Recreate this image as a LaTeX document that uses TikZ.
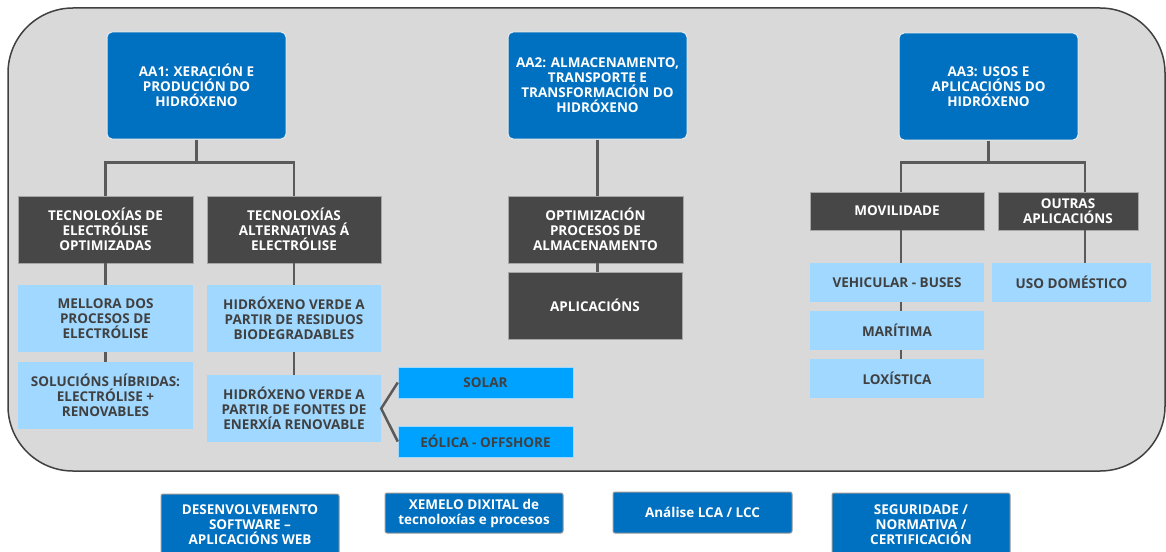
\documentclass[tikz,border=0pt]{standalone}
\usepackage{fontspec}
\setmainfont{Open Sans}
\definecolor{bgray}{HTML}{D9D9D9}
\definecolor{frame}{HTML}{404040}
\definecolor{aablue}{HTML}{0070C0}
\definecolor{darkbox}{HTML}{474747}
\definecolor{lightblue}{HTML}{A0D8FF}
\definecolor{brightblue}{HTML}{00A2FF}
\definecolor{conncol}{HTML}{5A5A5A}
\definecolor{txtgray}{HTML}{404040}
\begin{document}
\begin{tikzpicture}[x=1pt,y=-1pt,
  base/.style={inner sep=0pt,align=center,font=\bfseries\fontsize{13.5}{15}\selectfont},
  aabox/.style={base,fill=aablue,draw=white!85!gray,line width=1pt,rounded corners=5pt,text=white},
  dbox/.style={base,fill=darkbox,draw=gray!70,line width=0.5pt,text=white},
  lbox/.style={base,fill=lightblue,text=txtgray},
  sbox/.style={base,fill=brightblue,draw=lightblue,line width=0.5pt,text=txtgray},
  botbox/.style={base,fill=aablue,draw=gray!80,line width=1pt,rounded corners=2pt,text=white},
  conn/.style={draw=conncol,line width=2.5pt}]
\useasboundingbox (0,0) rectangle (1166,551);
\fill[white] (0,0) rectangle (1166,551);
\draw[fill=bgray,draw=frame,line width=1.5pt,rounded corners=65pt] (8,8) rectangle (1165,471);

% AA nodes
\node[aabox,minimum width=179pt,minimum height=107pt] (AA1) at (196.5,85.5) {AA1: XERACIÓN E\\PRODUCIÓN DO\\HIDRÓXENO};
\node[aabox,minimum width=179pt,minimum height=107pt] (AA2) at (597.5,85.5) {AA2: ALMACENAMENTO,\\TRANSPORTE E\\TRANSFORMACIÓN DO\\HIDRÓXENO};
\node[aabox,minimum width=179pt,minimum height=107pt] (AA3) at (988.5,86.5) {AA3: USOS E\\APLICACIÓNS DO\\HIDRÓXENO};

% dark boxes
\node[dbox,minimum width=175pt,minimum height=67pt] (TecE) at (105.5,229.5) {TECNOLOXÍAS DE\\ELECTRÓLISE\\OPTIMIZADAS};
\node[dbox,minimum width=174pt,minimum height=67pt] (TecA) at (294,229.5) {TECNOLOXÍAS\\ALTERNATIVAS Á\\ELECTRÓLISE};
\node[dbox,minimum width=175pt,minimum height=67pt] (Optim) at (595.5,229.5) {OPTIMIZACIÓN\\PROCESOS DE\\ALMACENAMENTO};
\node[dbox,minimum width=174pt,minimum height=67pt] (Aplic) at (595,305.5) {APLICACIÓNS};
\node[dbox,minimum width=174pt,minimum height=38pt] (Movil) at (897,211) {MOVILIDADE};
\node[dbox,minimum width=140pt,minimum height=38pt] (Outras) at (1068,211) {OUTRAS\\APLICACIÓNS};

% light boxes
\node[lbox,minimum width=175pt,minimum height=67pt] (Mellora) at (105.5,318.5) {MELLORA DOS\\PROCESOS DE\\ELECTRÓLISE};
\node[lbox,minimum width=175pt,minimum height=67pt] (Soluc) at (105.5,395.5) {SOLUCIÓNS HÍBRIDAS:\\ELECTRÓLISE +\\RENOVABLES};
\node[lbox,minimum width=174pt,minimum height=67pt] (Resid) at (294,318.5) {HIDRÓXENO VERDE A\\PARTIR DE RESIDUOS\\BIODEGRADABLES};
\node[lbox,minimum width=174pt,minimum height=67pt] (Fontes) at (294,408.5) {HIDRÓXENO VERDE A\\PARTIR DE FONTES DE\\ENERXÍA RENOVABLE};
\node[sbox,minimum width=175pt,minimum height=31pt] (Solar) at (485.5,382.5) {SOLAR};
\node[sbox,minimum width=175pt,minimum height=31pt] (Eolica) at (485.5,441.5) {EÓLICA - OFFSHORE};
\node[lbox,minimum width=174pt,minimum height=39pt] (Vehic) at (897,282.5) {VEHICULAR - BUSES};
\node[lbox,minimum width=174pt,minimum height=39pt] (Marit) at (897,330.5) {MARÍTIMA};
\node[lbox,minimum width=174pt,minimum height=39pt] (Loxis) at (897,378.5) {LOXÍSTICA};
\node[lbox,minimum width=159pt,minimum height=39pt] (Uso) at (1071.5,282.5) {USO DOMÉSTICO};

% bottom boxes
\node[botbox,minimum width=178pt,minimum height=62pt] (Desen) at (250,525) {DESENVOLVEMENTO\\SOFTWARE –\\APLICACIÓNS WEB};
\node[botbox,minimum width=178pt,minimum height=40pt] (Xemelo) at (474,513) {XEMELO DIXITAL de\\tecnoloxías e procesos};
\node[botbox,minimum width=179pt,minimum height=41pt] (Analise) at (702.5,512.5) {Análise LCA / LCC};
\node[botbox,minimum width=178pt,minimum height=63pt] (Segur) at (921,524.5) {SEGURIDADE /\\NORMATIVA /\\CERTIFICACIÓN};

% connectors
\coordinate (j1) at ([yshift=-23pt]AA1.south);
\draw[conn] (AA1.south) -- (j1);
\draw[conn] (TecE.north) |- (j1) -| (TecA.north);
\draw[conn] (TecE.south) -- (Mellora.north);
\draw[conn] (TecA.south) -- (Resid.north);
\draw[conn] (Mellora.south) -- (Soluc.north);
\draw[conn] (Resid.south) -- (Fontes.north);
\draw[conn,line join=miter] (Solar.west) -- (Fontes.east) -- (Eolica.west);

\draw[conn] (AA2.south) -- (AA2.south |- Optim.north);
\draw[conn] (Optim.south -| AA2.south) -- (Aplic.north -| AA2.south);

\coordinate (j3) at ([yshift=-22pt]AA3.south);
\coordinate (mv) at ([xshift=4pt]Movil.north);
\coordinate (ot) at ([xshift=17pt]Outras.north);
\draw[conn] (AA3.south) -- (j3);
\draw[conn] (mv) |- (j3) -| (ot);
\draw[conn] ([xshift=4pt]Movil.south) -- ([xshift=4pt]Vehic.north);
\draw[conn] ([xshift=4pt]Vehic.south) -- ([xshift=4pt]Marit.north);
\draw[conn] ([xshift=4pt]Marit.south) -- ([xshift=4pt]Loxis.north);
\draw[conn] (Outras.south -| ot) -- (Uso.north -| ot);
\end{tikzpicture}
\end{document}
